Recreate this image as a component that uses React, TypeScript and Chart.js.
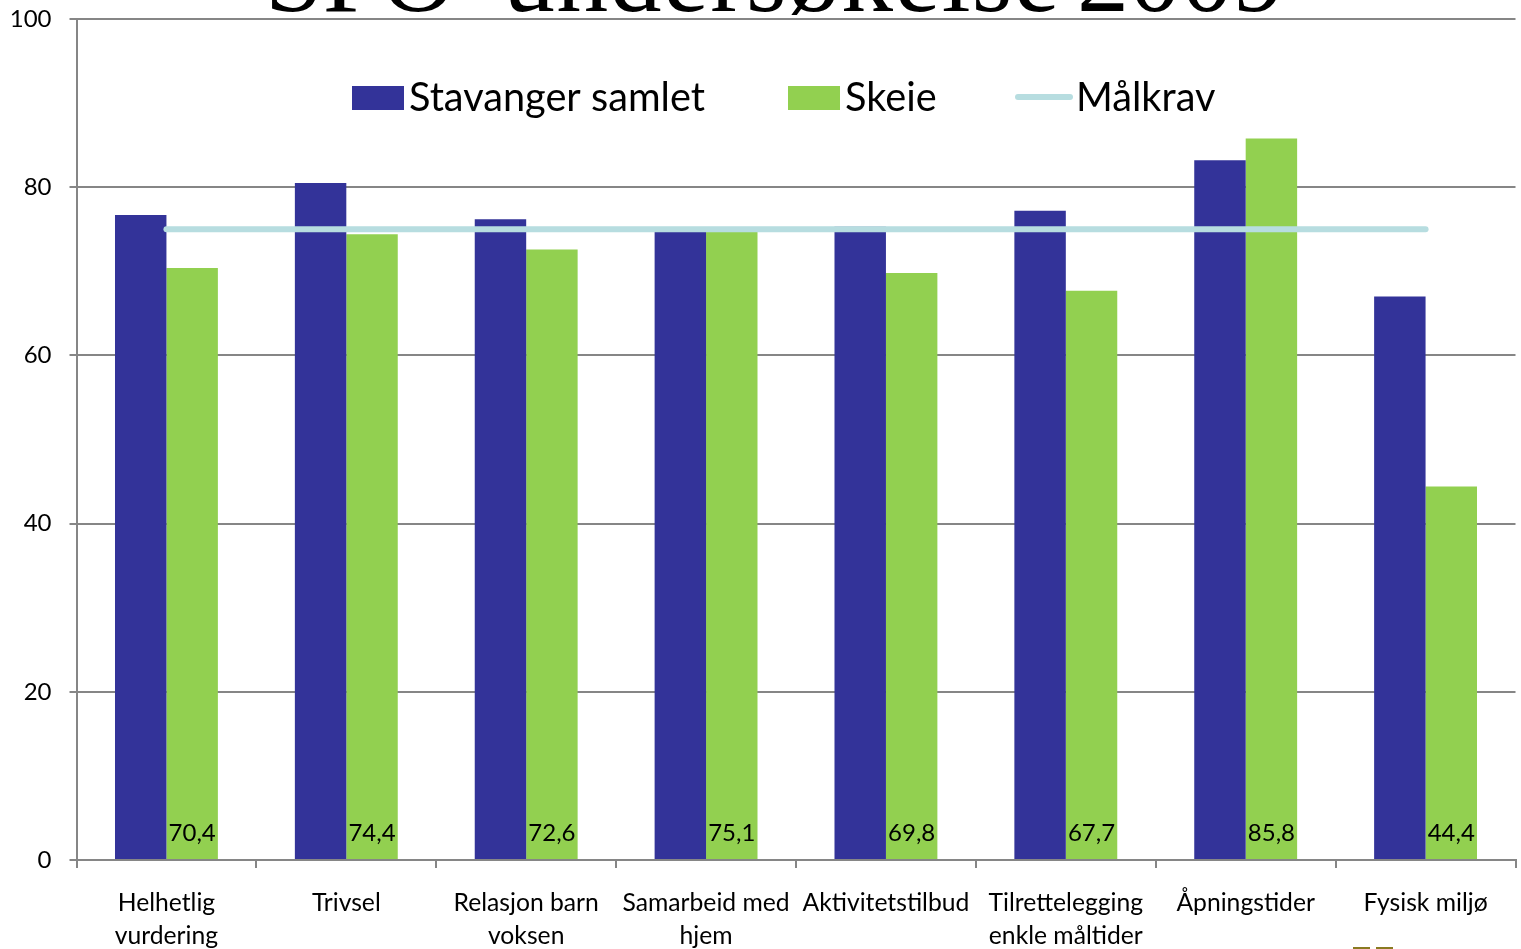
import React, { useEffect, useRef } from "react";
import { Chart, registerables } from "chart.js";

Chart.register(...registerables);

const titleWords = ["SFO-", "undersøkelse", "2009"];
const categories = [
  ["Helhetlig", "vurdering"],
  ["Trivsel"],
  ["Relasjon barn", "voksen"],
  ["Samarbeid med", "hjem"],
  ["Aktivitetstilbud"],
  ["Tilrettelegging", "enkle måltider"],
  ["Åpningstider"],
  ["Fysisk miljø"],
];
const stavanger = [76.7, 80.5, 76.2, 75.0, 75.3, 77.2, 83.2, 67.0];
const skeie = [70.4, 74.4, 72.6, 75.1, 69.8, 67.7, 85.8, 44.4];
const malkrav = [75, 75, 75, 75, 75, 75, 75, 75];
const yTicks = [0, 20, 40, 60, 80, 100];

const FONT = "Lato, Carlito, sans-serif";
const BLUE = "#333399";
const GREEN = "#92D050";
const LINE = "#B7DDE0";
const AXIS = "#868686";

const overlay = {
  id: "overlay",
  afterDatasetsDraw(chart: any) {
    const { ctx } = chart;
    ctx.save();
    // inside-base value labels for the second series
    const meta = chart.getDatasetMeta(1);
    ctx.font = `24px ${FONT}`;
    ctx.fillStyle = "#000";
    ctx.textAlign = "center";
    ctx.textBaseline = "middle";
    meta.data.forEach((el: any, i: number) => {
      ctx.fillText(skeie[i].toFixed(1).replace(".", ","), el.x, chart.scales.y.getPixelForValue(0) - 27);
    });
    // title, cut by the top of the picture
    ctx.font = `104px "Liberation Serif", serif`;
    ctx.textBaseline = "alphabetic";
    ctx.textAlign = "left";
    ctx.fillText(titleWords[0], 265, 11);
    ctx.letterSpacing = "1.25px";
    ctx.fillText(titleWords[1], 503, 11);
    ctx.letterSpacing = "0px";
    ctx.textAlign = "right";
    ctx.fillText(titleWords[2], 1285, 11);
    // legend
    const names = chart.data.datasets.map((d: any) => d.label);
    ctx.font = `39.7px ${FONT}`;
    ctx.textAlign = "left";
    ctx.textBaseline = "middle";
    ctx.fillStyle = BLUE;
    ctx.fillRect(352, 86, 52, 24);
    ctx.fillStyle = GREEN;
    ctx.fillRect(788, 86, 52, 24);
    ctx.strokeStyle = LINE;
    ctx.lineWidth = 6;
    ctx.lineCap = "round";
    ctx.beginPath();
    ctx.moveTo(1018, 97);
    ctx.lineTo(1070, 97);
    ctx.stroke();
    ctx.fillStyle = "#000";
    ctx.fillText(names[0], 409, 98);
    ctx.fillText(names[1], 845, 98);
    ctx.fillText(names[2], 1076, 98);
    // fragment of the crest at the bottom edge
    ctx.fillStyle = "#8A7A20";
    ctx.fillRect(1353, 947, 17, 2);
    ctx.fillRect(1376, 947, 17, 2);
    ctx.restore();
  },
};

export default function App() {
  const ref = useRef<HTMLCanvasElement>(null);
  useEffect(() => {
    document.body.style.margin = "0";
    const chart = new Chart(ref.current!, {
      type: "bar",
      data: {
        labels: categories,
        datasets: [
          { label: "Stavanger samlet", data: stavanger, backgroundColor: BLUE, order: 1 },
          { label: "Skeie", data: skeie, backgroundColor: GREEN, order: 2 },
          { type: "line", label: "Målkrav", data: malkrav, borderColor: LINE, backgroundColor: LINE, borderWidth: 6, borderCapStyle: "round", pointRadius: 0, order: 0 },
        ] as any,
      },
      options: {
        animation: false,
        responsive: false,
        layout: { padding: { top: 19, right: 5.5, left: 0, bottom: 0 } },
        plugins: { legend: { display: false }, tooltip: { enabled: false }, title: { display: false } },
        datasets: { bar: { barPercentage: 1, categoryPercentage: 0.572 } },
        scales: {
          x: {
            grid: { display: true, drawOnChartArea: false, color: AXIS, lineWidth: 2, tickLength: 8, offset: true },
            border: { color: AXIS, width: 2 },
            ticks: { color: "#000", font: { family: FONT, size: 24.7, lineHeight: 1.34 }, maxRotation: 0, minRotation: 0, autoSkip: false, padding: 18 },
            afterFit(s: any) { s.height = 89; s.paddingLeft = 0; s.paddingRight = 0; s.paddingTop = 0; s.paddingBottom = 0; },
          },
          y: {
            min: 0,
            max: 100,
            afterBuildTicks(s: any) { s.ticks = yTicks.map((value) => ({ value })); },
            grid: { color: AXIS, lineWidth: 2, tickLength: 7 },
            border: { color: AXIS, width: 2 },
            ticks: { color: "#000", font: { family: FONT, size: 24 }, padding: 18 },
            afterFit(s: any) { s.width = 76.5; s.paddingLeft = 0; s.paddingRight = 0; s.paddingTop = 0; s.paddingBottom = 0; },
          },
        },
      } as any,
      plugins: [overlay],
    });
    return () => chart.destroy();
  }, []);
  return <canvas ref={ref} width={1521} height={949} style={{ display: "block" }} />;
}
